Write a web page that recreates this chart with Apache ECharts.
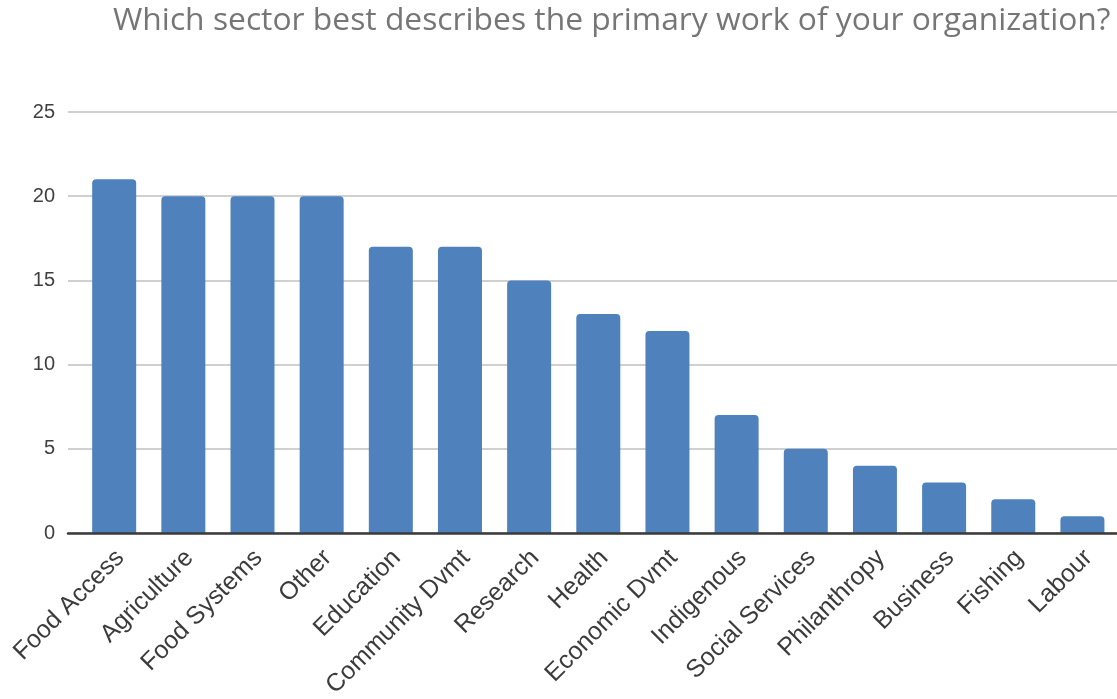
<!DOCTYPE html>
<html>
<head>
<meta charset="utf-8">
<style>
  html, body { margin: 0; padding: 0; background: #ffffff; }
  #chart { width: 1117px; height: 699px; }
</style>
<script src="https://cdn.jsdelivr.net/npm/echarts@6/dist/echarts.min.js"></script>
</head>
<body>
<div id="chart"></div>
<script>
// Survey responses: primary sector of each organization
const titleText = 'Which sector best describes the primary work of your organization?';
const sectors = ['Food Access', 'Agriculture', 'Food Systems', 'Other', 'Education',
  'Community Dvmt', 'Research', 'Health', 'Economic Dvmt', 'Indigenous',
  'Social Services', 'Philanthropy', 'Business', 'Fishing', 'Labour'];
const responses = [21, 20, 20, 20, 17, 17, 15, 13, 12, 7, 5, 4, 3, 2, 1];
const yTicks = { min: 0, max: 25, interval: 5 };

const chart = echarts.init(document.getElementById('chart'), null, { renderer: 'canvas' });

const plotTop = 112;
const plotBottom = 166;

chart.setOption({
  backgroundColor: '#ffffff',
  animation: false,
  title: {
    text: titleText,
    left: 108,
    top: 0,
    textStyle: {
      fontFamily: 'Open Sans',
      fontWeight: 'normal',
      fontSize: 31.8,
      color: '#767676'
    }
  },
  grid: [
    // background grid: gridlines, value labels and the baseline
    { left: 68, right: 0, top: plotTop, bottom: plotBottom, containLabel: false, outerBoundsMode: 'none' },
    // bar grid
    { left: 79.6, right: 0, top: plotTop, bottom: plotBottom, containLabel: false, outerBoundsMode: 'none' }
  ],
  xAxis: [
    {
      gridIndex: 0,
      type: 'value',
      min: 0,
      max: 1,
      z: 5,
      axisLine: { show: true, lineStyle: { color: '#3a3a3a', width: 2.5 } },
      axisTick: { show: false },
      axisLabel: { show: false },
      splitLine: { show: false }
    },
    {
      gridIndex: 1,
      type: 'category',
      data: sectors,
      axisLine: { show: false },
      axisTick: { show: false },
      axisLabel: {
        interval: 0,
        rotate: 45,
        margin: 15,
        verticalAlign: 'top',
        lineHeight: 17,
        fontFamily: 'Liberation Sans',
        fontSize: 25,
        color: '#3c3c3c'
      }
    }
  ],
  yAxis: [
    {
      gridIndex: 0,
      type: 'value',
      min: yTicks.min,
      max: yTicks.max,
      interval: yTicks.interval,
      axisLine: { show: false },
      axisTick: { show: false },
      axisLabel: {
        margin: 13,
        fontFamily: 'Liberation Sans',
        fontSize: 20,
        color: '#404040'
      },
      splitLine: { lineStyle: { color: '#d0d0d0', width: 2 } }
    },
    {
      gridIndex: 1,
      type: 'value',
      min: yTicks.min,
      max: yTicks.max,
      interval: yTicks.interval,
      axisLine: { show: false },
      axisTick: { show: false },
      axisLabel: { show: false },
      splitLine: { show: false }
    }
  ],
  series: [
    {
      type: 'bar',
      xAxisIndex: 1,
      yAxisIndex: 1,
      data: responses,
      barWidth: 44,
      z: 1,
      itemStyle: { color: '#4f81bd', borderRadius: [4, 4, 0, 0] }
    }
  ]
});
</script>
</body>
</html>
